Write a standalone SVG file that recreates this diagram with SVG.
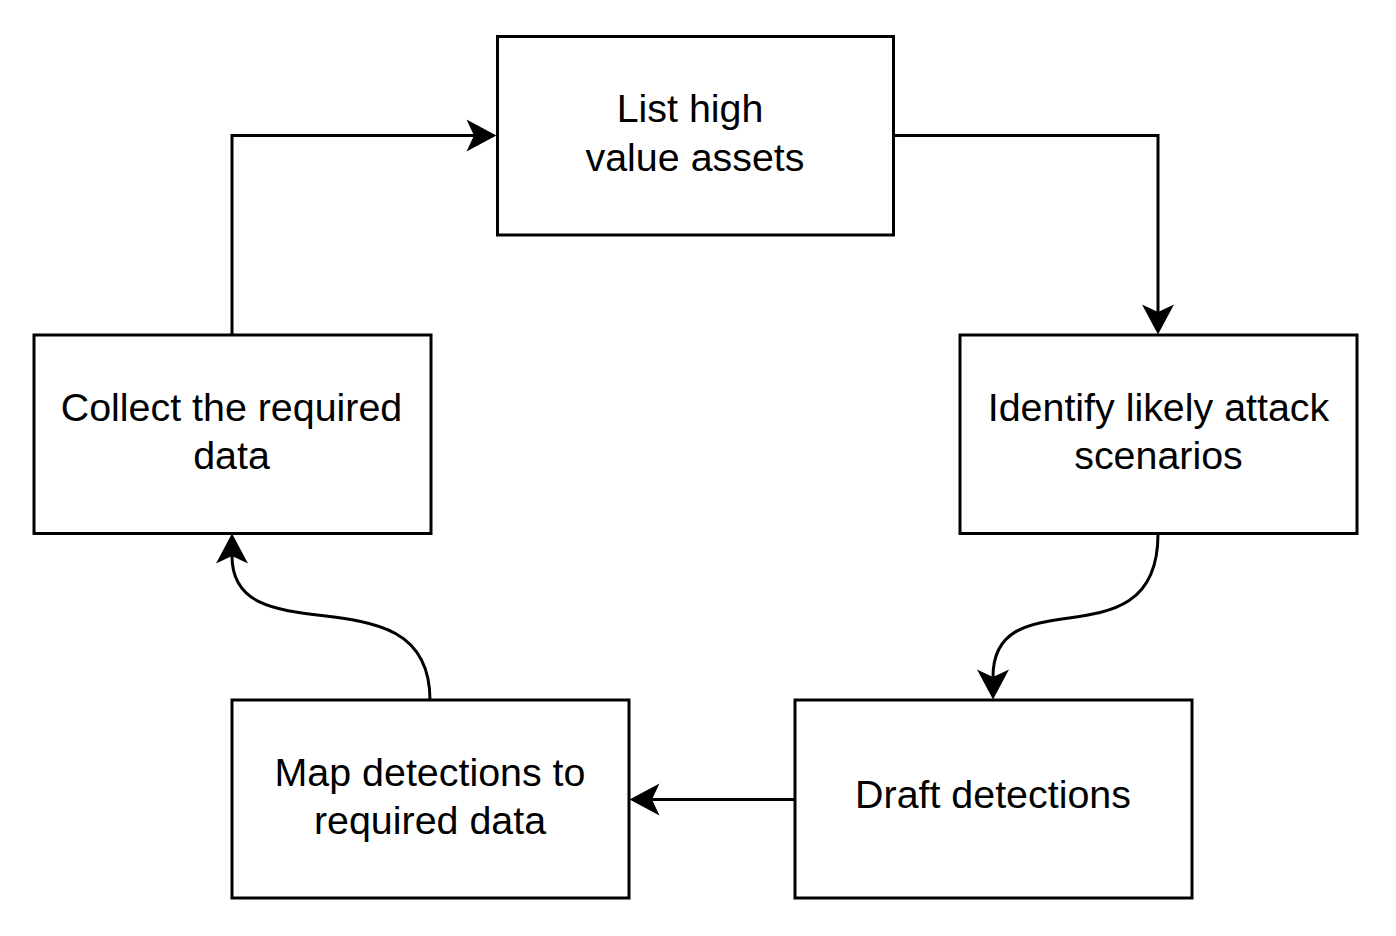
<svg xmlns="http://www.w3.org/2000/svg" width="1396" height="936" viewBox="0 0 1396 936">
<style>
.box{fill:#fff;stroke:#000;stroke-width:3}
.lbl{font-family:"Liberation Sans",Arial,sans-serif;font-size:39.4px;fill:#000;text-anchor:middle}
.edge{fill:none;stroke:#000;stroke-width:3}
</style>
<defs>
<marker id="arr" markerUnits="userSpaceOnUse" markerWidth="30" markerHeight="32" viewBox="0 0 28 30" refX="7" refY="15" orient="auto" overflow="visible">
<path d="M28,15 L0,0 L7,15 L0,30 Z" fill="#000"/>
</marker>
</defs>
<rect width="1396" height="936" fill="#fff"/>
<g id="connectors">
<path class="edge" d="M894,135.5 H1158 V312" marker-end="url(#arr)"/>
<path class="edge" d="M1158,534 C1158,668 993,574 993,677" marker-end="url(#arr)"/>
<path class="edge" d="M795,799.5 H652" marker-end="url(#arr)"/>
<path class="edge" d="M430,700 C430,566 232,660 232,556" marker-end="url(#arr)"/>
<path class="edge" d="M232,335 V135.5 H474" marker-end="url(#arr)"/>
</g>
<g id="node-list">
<rect class="box" x="497.5" y="36.5" width="396" height="198.5"/>
<text class="lbl" x="690" y="122">List high</text>
<text class="lbl" x="695" y="170.5">value assets</text>
</g>
<g id="node-identify">
<rect class="box" x="960" y="335" width="397" height="198.5"/>
<text class="lbl" x="1158.5" y="420.5">Identify likely attack</text>
<text class="lbl" x="1158.5" y="469">scenarios</text>
</g>
<g id="node-draft">
<rect class="box" x="795" y="700" width="397" height="198"/>
<text class="lbl" x="993" y="808">Draft detections</text>
</g>
<g id="node-map">
<rect class="box" x="232" y="700" width="397" height="198"/>
<text class="lbl" x="430" y="785.5">Map detections to</text>
<text class="lbl" x="430" y="834">required data</text>
</g>
<g id="node-collect">
<rect class="box" x="34" y="335" width="397" height="198.5"/>
<text class="lbl" x="231.5" y="420.5">Collect the required</text>
<text class="lbl" x="231.5" y="469">data</text>
</g>
</svg>
